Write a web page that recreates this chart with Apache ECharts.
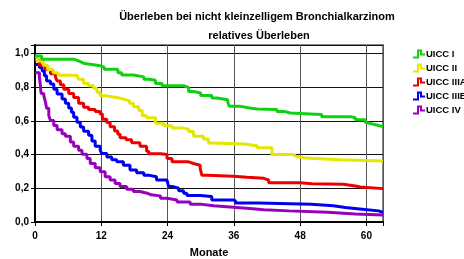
<!DOCTYPE html>
<html>
<head>
<meta charset="utf-8">
<script src="https://cdn.jsdelivr.net/npm/echarts@6/dist/echarts.min.js"></script>
<style>
	html, body { margin: 0; padding: 0; background: #fff; }
	#chart { width: 464px; height: 259px; }
</style>
</head>
<body>
<div id="chart"></div>
<script>
	// Kaplan-Meier Stufen: [Monat, Überleben ab diesem Monat]
	let uicc1 = [[0,0.985],[1.2,0.966],[7,0.96],[7.5,0.951],[8.2,0.94],[9,0.929],[11.5,0.92],[12.5,0.906],[15,0.886],[15.7,0.872],[17.8,0.861],[19.7,0.847],[20.6,0.841],[21.8,0.822],[23,0.808],[26.9,0.798],[27.8,0.774],[28.7,0.765],[30,0.751],[32,0.735],[32.9,0.725],[34.9,0.71],[35.2,0.686],[37.2,0.676],[38.9,0.67],[40.2,0.667],[43.8,0.655],[45.3,0.647],[46.2,0.641],[49.8,0.637],[51.9,0.625],[57.1,0.618],[58,0.606],[59.8,0.592],[60,0.582],[61,0.572],[62.2,0.567],[63,0.567]];
	let uicc2 = [[0,0.98],[0.4,0.955],[1.5,0.93],[2.3,0.905],[3.3,0.885],[4.2,0.871],[7.6,0.861],[7.9,0.847],[8.8,0.822],[9.7,0.808],[10.6,0.794],[11.2,0.769],[11.8,0.749],[12.7,0.739],[14.8,0.729],[16,0.72],[17.1,0.704],[17.8,0.684],[18.8,0.661],[19.4,0.631],[20.2,0.618],[21.8,0.586],[23.3,0.571],[24.8,0.557],[26.9,0.551],[27.8,0.537],[28.7,0.508],[30.5,0.492],[31.4,0.469],[32,0.463],[37.8,0.453],[40.2,0.44],[42.9,0.4],[46.8,0.39],[47.2,0.38],[48.9,0.37],[55,0.362],[63,0.362]];
	let uicc3a = [[0,0.96],[0.8,0.93],[1.9,0.906],[2.8,0.88],[3.7,0.86],[4,0.837],[4.6,0.814],[5.2,0.788],[6.1,0.763],[7,0.739],[7.9,0.704],[8.8,0.68],[9.7,0.667],[10.9,0.655],[11.8,0.641],[12.2,0.61],[13,0.59],[13.6,0.565],[14.4,0.54],[15,0.52],[15.4,0.5],[16.5,0.488],[17.5,0.47],[19,0.449],[20.2,0.42],[20.6,0.405],[22.8,0.4],[23.9,0.376],[24.8,0.357],[27.8,0.347],[28.7,0.337],[29.9,0.318],[30.2,0.278],[31.1,0.272],[35.9,0.269],[37.2,0.265],[38.4,0.259],[41.4,0.249],[42.3,0.233],[48,0.227],[50.1,0.224],[55.8,0.214],[58,0.208],[58.9,0.198],[63,0.198]];
	let uicc3b = [[0,0.935],[0.8,0.916],[1.3,0.896],[1.7,0.867],[2.1,0.837],[2.8,0.818],[3.4,0.788],[4,0.759],[4.9,0.729],[5.5,0.704],[6.1,0.676],[6.6,0.651],[7,0.622],[7.6,0.592],[8.2,0.563],[8.8,0.539],[9.7,0.515],[10.3,0.48],[10.9,0.449],[11.8,0.425],[12.1,0.406],[13,0.386],[13.9,0.37],[14.8,0.357],[16,0.337],[17.2,0.308],[18.4,0.292],[19.7,0.278],[20.5,0.269],[22,0.249],[23.9,0.239],[24.2,0.21],[25,0.2],[26,0.186],[26.9,0.171],[27.5,0.157],[29.9,0.151],[32,0.131],[35.9,0.125],[36.3,0.112],[40.5,0.106],[50,0.096],[54,0.086],[56.2,0.076],[59.2,0.066],[62.2,0.057],[63,0.057]];
	let uicc4 = [[0,0.886],[0.8,0.857],[0.95,0.818],[1.1,0.763],[1.6,0.75],[1.9,0.71],[2.1,0.675],[2.5,0.631],[2.8,0.602],[3.4,0.572],[4,0.547],[4.9,0.524],[5.5,0.508],[6.4,0.475],[7,0.449],[7.9,0.425],[8.5,0.402],[9.4,0.376],[10,0.347],[10.9,0.322],[11.8,0.298],[12.7,0.269],[13.6,0.249],[14.5,0.229],[15.4,0.21],[16.6,0.194],[17.8,0.181],[19,0.171],[20.3,0.161],[21,0.155],[22.7,0.141],[23.9,0.131],[25.7,0.118],[28.1,0.106],[29.9,0.096],[32.3,0.088],[35.9,0.08],[38.9,0.072],[41.4,0.066],[46,0.058],[53,0.048],[58,0.042],[63,0.042]];

	let names = ['UICC I', 'UICC II', 'UICC IIIA', 'UICC IIIB', 'UICC IV'];
	let colors = ['#11d011', '#e6e600', '#ee0000', '#0000ee', '#9900bb'];
	let curves = [uicc1, uicc2, uicc3a, uicc3b, uicc4];

	let font = 'Liberation Sans, Arial, sans-serif';
	// kleines Stufen-Symbol wie im Original
	let stepIcon = 'path://M0,8 L4,8 L4,1 L9,1 L9,5 L12,5 L12,7 L7,7 L7,3 L6,3 L6,10 L0,10 Z';

	let series = curves.map(function(c, i) {
		return {
			name: names[i],
			type: 'line',
			step: 'end',
			data: c,
			symbol: 'none',
			color: colors[i],
			lineStyle: { width: 3, color: colors[i] },
			z: 10 - i
		};
	});

	let option = {
		animation: false,
		title: [{
			text: 'Überleben bei nicht kleinzelligem Bronchialkarzinom',
			left: 252, top: 6, textAlign: 'center',
			textStyle: { fontFamily: font, fontSize: 11, fontWeight: 'bold', color: '#000' }
		}, {
			text: 'relatives Überleben',
			left: 254, top: 25, textAlign: 'center',
			textStyle: { fontFamily: font, fontSize: 11, fontWeight: 'bold', color: '#000' }
		}],
		legend: {
			orient: 'vertical',
			left: 408, top: 44,
			padding: 5,
			itemWidth: 12, itemHeight: 9, itemGap: 4,
			icon: stepIcon,
			data: names,
			textStyle: {
				fontFamily: font, fontSize: 9.5, fontWeight: 'bold', color: '#000',
				padding: [0, 0, 0, -4], overflow: 'none'
			}
		},
		grid: {
			left: 35, right: 81, top: 45, bottom: 37,
			outerBoundsMode: 'none',
			show: true, borderColor: '#888', borderWidth: 2
		},
		xAxis: {
			type: 'value', min: 0, max: 63, interval: 12,
			name: 'Monate', nameLocation: 'middle', nameGap: 25,
			nameTextStyle: { fontFamily: font, fontSize: 11, fontWeight: 'bold', color: '#000' },
			axisLine: { lineStyle: { color: '#000', width: 2 } },
			axisTick: { length: 4, lineStyle: { color: '#000' } },
			axisLabel: {
				fontFamily: font, fontSize: 10, fontWeight: 'bold', color: '#000', margin: 9,
				formatter: function(v) { return v % 12 === 0 ? String(v) : ''; }
			},
			splitLine: { show: true, lineStyle: { color: '#555', width: 1 } }
		},
		yAxis: {
			type: 'value', min: 0, max: 1.05, interval: 0.2,
			axisLine: { show: true, lineStyle: { color: '#000', width: 2 } },
			axisTick: { show: true, length: 4, lineStyle: { color: '#000' } },
			axisLabel: {
				fontFamily: font, fontSize: 10, fontWeight: 'bold', color: '#000', margin: 6,
				formatter: function(v) {
					if (Math.abs(v * 5 - Math.round(v * 5)) > 1e-6) return '';
					return v.toFixed(1).replace('.', ',');
				}
			},
			splitLine: { show: true, lineStyle: { color: '#111', width: 1 } }
		},
		series: series
	};

	let chart = echarts.init(document.getElementById('chart'));
	chart.setOption(option);
</script>
</body>
</html>
